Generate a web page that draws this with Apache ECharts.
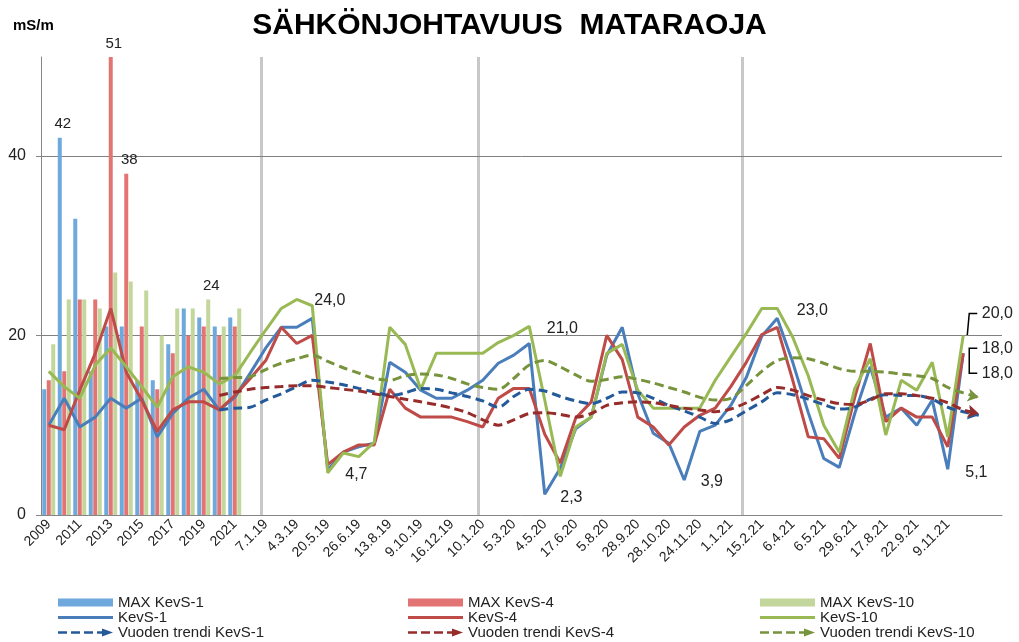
<!DOCTYPE html>
<html>
<head>
<meta charset="utf-8">
<title>Sähkönjohtavuus Mataraoja</title>
<script src="https://cdn.jsdelivr.net/npm/echarts@6/dist/echarts.min.js"></script>
<style>
html, body { margin: 0; padding: 0; background: #fff; }
#main { width: 1019px; height: 642px; }
</style>
</head>
<body>
<div id="main"></div>
<script>
// x-akseli: vuodet 2009-2021 + näytteenottopäivät (joka toinen nimi näkyy)
var categories = [
    '2009', '2010', '2011', '2012', '2013', '2014', '2015', '2016', '2017', '2018', '2019', '2020', '2021',
    '', '7.1.19', '', '4.3.19', '', '20.5.19', '', '26.6.19', '', '13.8.19', '', '9.10.19', '', '16.12.19', '',
    '10.1.20', '', '5.3.20', '', '4.5.20', '', '17.6.20', '', '5.8.20', '', '28.9.20', '', '28.10.20', '', '24.11.20', '',
    '1.1.21', '', '15.2.21', '', '6.4.21', '', '6.5.21', '', '29.6.21', '', '17.8.21', '', '22.9.21', '', '9.11.21', '', '', ''
];

// vuosimaksimit 2009-2021
var maxKevS1 = [14, 42, 33, 16, 21, 21, 15, 15, 19, 23, 22, 21, 22];
var maxKevS4 = [15, 16, 24, 24, 51, 38, 21, 14, 18, 20, 21, 20, 21];
var maxKevS10 = [19, 24, 24, 23, 27, 26, 25, 20, 23, 23, 24, 21, 23];

var kevS1 = [10.0, 13.0, 9.8, 10.9, 13.0, 11.9, 13.0, 8.7, 11.3, 13.0, 14.0, 11.7, 13.1,
    15.8, 18.6, 20.9, 20.9, 21.9, 5.0, 7.0, 7.6, 8.0, 17.0, 15.9, 13.9, 13.0, 13.0, 13.9, 15.0, 16.9,
    17.8, 19.1, 2.3, 5.2, 9.6, 10.9, 17.8, 20.9, 13.5, 9.1, 8.0, 3.9, 9.3, 10.0, 12.2, 15.3, 19.9, 21.9,
    17.0, 11.4, 6.3, 5.3, 11.3, 16.5, 10.9, 11.9, 10.0, 12.8, 5.1, 18.0, null, null];
var kevS4 = [10.0, 9.5, 13.9, 18.0, 23.0, 15.9, 12.8, 9.3, 11.7, 12.6, 12.6, 11.7, 13.3,
    15.2, 17.2, 20.9, 19.1, 20.0, 5.6, 7.0, 7.8, 7.8, 14.0, 11.9, 10.9, 10.9, 10.9, 10.4, 9.8, 13.0,
    14.1, 14.1, 9.0, 5.8, 10.8, 12.6, 20.0, 17.3, 10.9, 9.8, 7.8, 9.8, 11.1, 11.9, 14.3, 17.0, 20.1, 20.9,
    15.0, 8.7, 8.5, 6.3, 13.1, 19.1, 10.4, 11.9, 10.9, 10.9, 7.6, 18.0, null, null];
var kevS10 = [16.0, 14.3, 13.0, 16.7, 18.6, 16.5, 14.3, 12.0, 15.4, 16.5, 15.9, 14.6, 15.5,
    18.1, 20.6, 23.0, 24.0, 23.3, 4.7, 6.9, 6.5, 8.1, 20.9, 19.0, 14.0, 18.0, 18.0, 18.0, 18.0, 19.2,
    20.0, 21.0, 12.8, 4.3, 9.8, 10.9, 18.0, 19.0, 13.9, 11.9, 11.9, 11.9, 11.9, 15.0, 17.6, 20.2, 23.0, 23.0,
    19.8, 15.5, 10.0, 7.0, 14.1, 17.4, 8.9, 15.0, 13.9, 17.0, 8.7, 20.0, null, null];

// vuoden trendit (alkavat 2020:sta)
var trendKevS1 = [null, null, null, null, null, null, null, null, null, null, null,
    11.7, 11.9, 12.0, 12.8, 13.5, 14.3, 15.0, 14.8, 14.5, 14.1, 13.7, 13.3, 13.6, 14.1, 14.0, 13.6, 13.2, 12.7, 12.0,
    13.2, 14.0, 13.8, 13.2, 12.7, 12.4, 13.0, 13.7, 13.6, 13.0, 12.2, 11.6, 10.9, 10.2, 10.6, 11.6, 12.6, 13.6,
    13.4, 12.9, 12.3, 11.8, 12.0, 12.9, 13.4, 13.3, 13.3, 12.9, 12.0, 11.5, 11.1, null];
var trendKevS4 = [null, null, null, null, null, null, null, null, null, null, null,
    13.3, 13.7, 14.0, 14.2, 14.3, 14.4, 14.4, 14.2, 14.0, 13.8, 13.5, 13.2, 12.9, 12.6, 12.3, 11.9, 11.4, 10.6, 10.0,
    10.6, 11.3, 11.4, 11.2, 10.9, 11.3, 12.2, 12.5, 12.6, 12.5, 12.2, 11.9, 11.7, 11.5, 11.8, 12.5, 13.4, 14.2,
    13.9, 13.3, 12.8, 12.4, 12.3, 12.8, 13.5, 13.5, 13.3, 13.0, 12.5, 11.7, 11.3, null];
var trendKevS10 = [null, null, null, null, null, null, null, null, null, null, null,
    15.2, 15.3, 15.4, 16.2, 16.9, 17.4, 17.8, 17.1, 16.4, 15.8, 15.2, 15.0, 15.5, 15.7, 15.6, 15.2, 14.6, 14.2, 14.0,
    15.2, 16.7, 17.2, 16.5, 15.6, 14.9, 15.1, 15.4, 15.1, 14.7, 14.2, 13.7, 13.1, 12.8, 13.0, 14.4, 16.0, 17.2,
    17.5, 17.4, 16.9, 16.3, 16.0, 16.0, 15.9, 15.7, 15.5, 15.2, 14.2, 13.6, 13.1, null];

// vuodenvaihteen pystyviivat (kategorian indeksi)
var yearMarks = [14, 28, 45];

var font = "'Liberation Sans', Arial, sans-serif";

// legendan kuvakkeet
var iconLine = 'path://M0,0h0.1v0.1h-0.1z M0,2.5h55v3h-55z M0,7.9h0.1v0.1h-0.1z';
var iconTrend = 'path://M0,2.7h9v2.6h-9z M13,2.7h9v2.6h-9z M26,2.7h9v2.6h-9z M39,2.7h6v2.6h-6z M44,0L55,4L44,8z';

function fmt(v) {
    return v.toFixed(1).replace('.', ',');
}

function barData(values, labelIdx) {
    var out = [];
    for (var i = 0; i < categories.length; i++) {
        if (i < values.length) {
            if (labelIdx.indexOf(i) >= 0) {
                out.push({value: values[i], label: {show: true}});
            } else {
                out.push(values[i]);
            }
        } else {
            out.push('-');
        }
    }
    return out;
}

// arvolabelit: indeksi -> siirtymä
function lineData(values, labels) {
    return values.map(function (v, i) {
        if (labels[i]) {
            return {
                value: v,
                symbol: 'circle',
                symbolSize: 1,
                itemStyle: {color: 'rgba(0,0,0,0)'},
                label: {show: true, position: 'right', offset: labels[i], formatter: function (p) { return fmt(p.value); }}
            };
        }
        return v;
    });
}

function trendData(values, color) {
    var last = -1;
    values.forEach(function (v, i) { if (v != null) last = i; });
    return values.map(function (v, i) {
        if (i === last) {
            return {value: v, symbol: 'arrow', symbolSize: [10, 11], symbolRotate: -102, itemStyle: {color: color}};
        }
        return v;
    });
}

function bar(name, values, color, labelIdx) {
    return {
        name: name,
        type: 'bar',
        barWidth: 4,
        barGap: '12%',
        itemStyle: {color: color},
        label: {position: 'top', distance: 6, offset: [3, 0], fontSize: 15, color: '#222', fontFamily: font},
        data: barData(values, labelIdx)
    };
}

function line(name, values, color, labels) {
    return {
        name: name,
        type: 'line',
        symbol: 'none',
        color: color,
        lineStyle: {width: 3, color: color},
        label: {fontSize: 16, color: '#222', fontFamily: font},
        z: 3,
        data: lineData(values, labels)
    };
}

function trend(name, values, color) {
    return {
        name: name,
        type: 'line',
        symbol: 'none',
        smooth: 0.3,
        color: color,
        lineStyle: {width: 3, color: color, type: [9, 5]},
        z: 4,
        data: trendData(values, color)
    };
}

var myChart = echarts.init(document.getElementById('main'));

var series = [
    bar('MAX KevS-1', maxKevS1, '#6fa8dc', [1]),
    bar('MAX KevS-4', maxKevS4, '#e27474', [4, 5]),
    bar('MAX KevS-10', maxKevS10, '#c3d69b', [10]),
    line('KevS-1', kevS1, '#4a7ebb', {32: [10, 3], 41: [11, 2], 58: [12, 3], 59: [13, -5]}),
    line('KevS-4', kevS4, '#be4b48', {59: [13, 20]}),
    line('KevS-10', kevS10, '#98b954', {16: [12, 1], 18: [12, 2], 31: [12, 2], 47: [14, 2], 59: [13, -22]}),
    trend('Vuoden trendi KevS-1', trendKevS1, '#245a9a'),
    trend('Vuoden trendi KevS-4', trendKevS4, '#962d2b'),
    trend('Vuoden trendi KevS-10', trendKevS10, '#77933c')
];

series[0].markLine = {
    silent: true,
    z: 1,
    symbol: 'none',
    label: {show: false},
    lineStyle: {color: '#c8c8c8', width: 3, type: 'solid'},
    data: yearMarks.map(function (i) { return {xAxis: i}; }).concat([
        {yAxis: 20, lineStyle: {color: '#7f7f7f', width: 1}},
        {yAxis: 40, lineStyle: {color: '#7f7f7f', width: 1}}
    ])
};

var legendText = {fontSize: 15, color: '#222', fontFamily: font, lineHeight: 14};

function legend(left, n) {
    return {
        orient: 'vertical',
        left: left,
        top: 595,
        height: 80,
        padding: 0,
        itemWidth: 55,
        itemHeight: 8,
        itemGap: 0,
        textStyle: legendText,
        data: [
            {name: 'MAX KevS-' + n, icon: 'rect'},
            {name: 'KevS-' + n, icon: iconLine},
            {name: 'Vuoden trendi KevS-' + n, icon: iconTrend}
        ]
    };
}

var option = {
    animation: false,
    textStyle: {fontFamily: font},
    title: [{
        text: 'SÄHKÖNJOHTAVUUS  MATARAOJA',
        left: 'center',
        top: 6,
        textStyle: {fontSize: 30, fontWeight: 'bold', color: '#000', fontFamily: font}
    }, {
        text: 'mS/m',
        left: 8,
        top: 13,
        textStyle: {fontSize: 15, fontWeight: 'bold', color: '#000', fontFamily: font}
    }],
    legend: [legend(58, 1), legend(408, 4), legend(760, 10)],
    grid: {left: 41, right: 17, top: 57, bottom: 127},
    xAxis: {
        type: 'category',
        data: categories,
        boundaryGap: true,
        axisLine: {lineStyle: {color: '#868686'}},
        axisTick: {interval: 4, length: 5, lineStyle: {color: '#868686'}},
        axisLabel: {interval: 1, rotate: 45, fontSize: 14, color: '#222', margin: 7}
    },
    yAxis: {
        type: 'value',
        min: 0,
        max: 51,
        interval: 20,
        splitLine: {show: false},
        axisLine: {show: true, lineStyle: {color: '#868686'}},
        axisTick: {show: true, length: 5, customValues: [0, 20, 40], lineStyle: {color: '#868686'}},
        axisLabel: {
            customValues: [0, 20, 40],
            fontSize: 16, color: '#222', margin: 15,
            formatter: function (v) { return v % 20 === 0 ? v : ''; }
        }
    },
    series: series
};
myChart.setOption(option);

// hakasulut viimeisten arvojen labeleille
var pG = myChart.convertToPixel({seriesIndex: 5}, [59, kevS10[59]]);
var pB = myChart.convertToPixel({seriesIndex: 3}, [59, kevS1[59]]);
myChart.setOption({
    graphic: [{
        type: 'polyline',
        shape: {points: [[pG[0] + 4, pG[1]], [pG[0] + 6, pG[1] - 22], [pG[0] + 14, pG[1] - 22]]},
        style: {stroke: '#000', lineWidth: 1.5, fill: null}
    }, {
        type: 'polyline',
        shape: {points: [[pB[0] + 14, pB[1] - 5], [pB[0] + 6, pB[1] - 5], [pB[0] + 6, pB[1] + 20], [pB[0] + 14, pB[1] + 20]]},
        style: {stroke: '#000', lineWidth: 1.5, fill: null}
    }]
});
window.onresize = myChart.resize;
</script>
</body>
</html>
